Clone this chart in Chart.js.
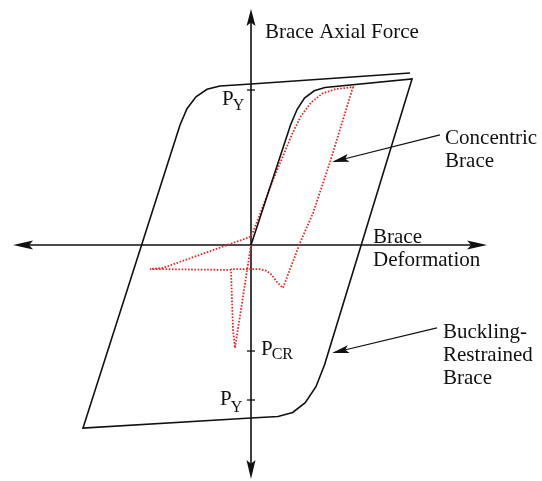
<!DOCTYPE html>
<html>
<head>
<meta charset="utf-8">
<script src="https://cdn.jsdelivr.net/npm/chart.js@4"></script>
<style>
  html, body { margin: 0; padding: 0; background: #fff; }
  canvas { display: block; }
</style>
</head>
<body>
<canvas id="chart" width="542" height="481"></canvas>
<script>
// forces are in units of P_Y, deformation in the same drawing units
const brbDeformation = [0, 0.255, 0.297, 0.345, 0.408, 0.477, 1.039, 0.474, 0.419, 0.35, 0.269, 0.174, 0, -1.084, -0.458, -0.413, -0.355, -0.284, -0.2, 0, 1.026]
const brbForce = [0, 0.774, 0.874, 0.948, 0.995, 1.016, 1.071, -0.774, -0.914, -1.017, -1.08, -1.106, -1.116, -1.181, 0.774, 0.879, 0.956, 1.005, 1.026, 1.039, 1.11]

const cbDeformation = [0, -0.103, -0.116, -0.129, -0.652, -0.568, -0.006, 0.013, 0.142, 0.263, 0.321, 0.387, 0.461, 0.542, 0.658, 0.51, 0.4, 0.316, 0.206, 0.168, 0.135, 0.103, 0.058, -0.129]
const cbForce = [0, -0.665, -0.548, -0.161, -0.155, -0.148, 0.052, 0.084, 0.419, 0.71, 0.83, 0.919, 0.978, 1.005, 1.019, 0.535, 0.206, 0.013, -0.277, -0.239, -0.194, -0.168, -0.155, -0.155]

const forceTicks = [1, -0.684, -1]
const forceTickLabels = [['P', 'Y'], ['P', 'CR'], ['P', 'Y']]

const axisXRange = [-1.535, 1.523]
const axisYRange = [-1.51, 1.523]

const FONT = "'Liberation Serif', 'Times New Roman', serif"
const INK = '#111'

const toPoints = (xs, ys) => xs.map((x, i) => ({ x, y: ys[i] }))

function arrowHead(ctx, fx, fy, tx, ty, len, half) {
	const d = Math.hypot(tx - fx, ty - fy)
	const ux = (tx - fx) / d
	const uy = (ty - fy) / d
	const bx = tx - ux * len
	const by = ty - uy * len
	ctx.beginPath()
	ctx.moveTo(tx, ty)
	ctx.lineTo(bx - uy * half, by + ux * half)
	ctx.lineTo(tx - ux * len * 0.8, ty - uy * len * 0.8)
	ctx.lineTo(bx + uy * half, by - ux * half)
	ctx.closePath()
	ctx.fill()
}

function arrow(ctx, fx, fy, tx, ty, len, half) {
	ctx.beginPath()
	ctx.moveTo(fx, fy)
	ctx.lineTo(tx - (tx - fx) * 0.02, ty - (ty - fy) * 0.02)
	ctx.stroke()
	arrowHead(ctx, fx, fy, tx, ty, len, half)
}

// where the tick labels and callouts sit (pixel offsets / data anchors)
const tickLabelPlace = [
	{ dx: -29, dy: 15, sdy: 20 },
	{ dx: 10, dy: 4, sdy: 8 },
	{ dx: -31, dy: 5, sdy: 12 }
]
const texts = [
	{ lines: ['Brace Axial Force'], x: 0.09, y: 1.335 },
	{ lines: ['Brace', 'Deformation'], x: 0.787, y: 0.013 },
	{ lines: ['Concentric', 'Brace'], x: 1.252, y: 0.652 },
	{ lines: ['Buckling-', 'Restrained', 'Brace'], x: 1.239, y: -0.6 }
]
const pointers = [
	{ from: [1.219, 0.71], to: [0.523, 0.535] },
	{ from: [1.2, -0.535], to: [0.523, -0.697] }
]

const overlay = {
	id: 'overlay',
	beforeDatasetsDraw(chart) {
		const { ctx, scales: { x, y } } = chart
		const X = (v) => x.getPixelForValue(v)
		const Y = (v) => y.getPixelForValue(v)
		ctx.save()
		ctx.strokeStyle = INK
		ctx.fillStyle = INK
		ctx.lineWidth = 1.6

		ctx.beginPath()
		ctx.moveTo(X(axisXRange[0]) + 10, Y(0))
		ctx.lineTo(X(axisXRange[1]) - 10, Y(0))
		ctx.moveTo(X(0), Y(axisYRange[0]) - 10)
		ctx.lineTo(X(0), Y(axisYRange[1]) + 10)
		ctx.stroke()
		arrowHead(ctx, X(0), Y(0), X(axisXRange[0]), Y(0), 20, 4.5)
		arrowHead(ctx, X(0), Y(0), X(axisXRange[1]), Y(0), 20, 4.5)
		arrowHead(ctx, X(0), Y(0), X(0), Y(axisYRange[0]), 19, 4.5)
		arrowHead(ctx, X(0), Y(0), X(0), Y(axisYRange[1]), 17, 4.5)

		// ticks on force axis
		ctx.lineWidth = 1.3
		forceTicks.forEach((v) => {
			ctx.beginPath()
			ctx.moveTo(X(0) - 4, Y(v))
			ctx.lineTo(X(0) + 4, Y(v))
			ctx.stroke()
		})
		ctx.restore()
	},
	afterDatasetsDraw(chart) {
		const { ctx, scales: { x, y } } = chart
		const X = (v) => x.getPixelForValue(v)
		const Y = (v) => y.getPixelForValue(v)
		ctx.save()
		ctx.fillStyle = INK
		ctx.strokeStyle = INK
		ctx.textBaseline = 'alphabetic'

		forceTicks.forEach((v, i) => {
			const [main, sub] = forceTickLabels[i]
			const p = tickLabelPlace[i]
			const px = X(0) + p.dx
			ctx.font = '21px ' + FONT
			ctx.fillText(main, px, Y(v) + p.dy)
			const w = ctx.measureText(main).width
			ctx.font = '16px ' + FONT
			ctx.fillText(sub, px + w - 1, Y(v) + p.sdy)
		})

		ctx.font = '21px ' + FONT
		texts.forEach((t) => {
			t.lines.forEach((line, k) => {
				ctx.fillText(line, X(t.x), Y(t.y) + k * 23)
			})
		})

		ctx.lineWidth = 1.2
		pointers.forEach((p) => {
			arrow(ctx, X(p.from[0]), Y(p.from[1]), X(p.to[0]), Y(p.to[1]), 17, 4)
		})
		ctx.restore()
	}
}

new Chart(document.getElementById('chart').getContext('2d'), {
	type: 'scatter',
	data: {
		datasets: [
			{
				label: 'Buckling-Restrained Brace',
				data: toPoints(brbDeformation, brbForce),
				showLine: true,
				borderColor: INK,
				borderWidth: 1.6,
				pointRadius: 0,
				tension: 0
			},
			{
				label: 'Concentric Brace',
				data: toPoints(cbDeformation, cbForce),
				showLine: true,
				borderColor: 'rgb(232, 40, 36)',
				borderWidth: 1.8,
				borderDash: [1.6, 1.6],
				pointRadius: 0,
				tension: 0
			}
		]
	},
	options: {
		responsive: false,
		devicePixelRatio: 1,
		animation: false,
		layout: { padding: 0 },
		plugins: {
			legend: { display: false },
			tooltip: { enabled: false }
		},
		scales: {
			x: { type: 'linear', display: false, min: -251 / 155, max: 291 / 155 },
			y: { type: 'linear', display: false, min: -236 / 155, max: 245 / 155 }
		}
	},
	plugins: [overlay]
})
</script>
</body>
</html>
